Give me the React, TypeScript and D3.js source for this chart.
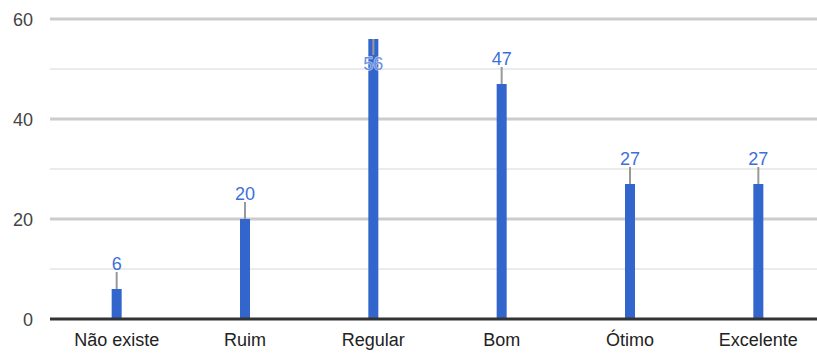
import React from "react";
import * as d3 from "d3";

const categories = ["Não existe", "Ruim", "Regular", "Bom", "Ótimo", "Excelente"];
const values = [6, 20, 56, 47, 27, 27];
const majorTicks = [0, 20, 40, 60];
const minorTicks = [10, 30, 50];

const W = 817;
const H = 353;
const FONT = "Arial, 'Liberation Sans', sans-serif";

export default function App() {
  const x = d3
    .scaleBand<string>()
    .domain(categories)
    .range([52.5, 822.5])
    .paddingInner(0.922)
    .paddingOuter(0.461);
  const y = d3.scaleLinear().domain([0, 60]).range([319, 19]);
  const bw = x.bandwidth();
  const chartTop = y(60);

  return (
    <svg
      width={W}
      height={H}
      style={{ position: "absolute", left: 0, top: 0, overflow: "hidden", background: "#fff" }}
    >
      {minorTicks.map((t) => (
        <line key={"mi" + t} x1={50} x2={W} y1={y(t)} y2={y(t)} stroke="#ebebeb" strokeWidth={2} />
      ))}
      {majorTicks.filter((t) => t !== 0).map((t) => (
        <line key={"ma" + t} x1={50} x2={W} y1={y(t)} y2={y(t)} stroke="#cccccc" strokeWidth={3} />
      ))}
      {majorTicks.map((t) => (
        <text
          key={"yl" + t}
          x={33}
          y={y(t) + 6.5}
          textAnchor="end"
          fontFamily={FONT}
          fontSize={18}
          fill="#444"
        >
          {t}
        </text>
      ))}
      {values.map((v, i) => {
        const c = categories[i];
        const cx = (x(c) as number) + bw / 2;
        const top = y(v);
        const inside = top - 36 < chartTop;
        return (
          <g key={c}>
            <rect x={x(c)} y={top} width={bw} height={y(0) - top} fill="#3366cc" />
            {inside ? (
              <>
                <line x1={cx} x2={cx} y1={top} y2={top + 16} stroke="#999" strokeWidth={2} />
                <text
                  x={cx}
                  y={top + 31}
                  textAnchor="middle"
                  fontFamily={FONT}
                  fontSize={18}
                  fill="#6d8fe0"
                  stroke="#ffffff"
                  strokeWidth={1.5}
                  strokeOpacity={0.6}
                  style={{ paintOrder: "stroke" }}
                >
                  {v}
                </text>
              </>
            ) : (
              <>
                <line x1={cx} x2={cx} y1={top - 17} y2={top} stroke="#999" strokeWidth={2} />
                <text
                  x={cx}
                  y={top - 19}
                  textAnchor="middle"
                  fontFamily={FONT}
                  fontSize={18}
                  fill="#3d6fdc"
                >
                  {v}
                </text>
              </>
            )}
          </g>
        );
      })}
      <line x1={50} x2={W} y1={y(0)} y2={y(0)} stroke="#333" strokeWidth={3} />
      {categories.map((c) => (
        <text
          key={"xl" + c}
          x={(x(c) as number) + bw / 2}
          y={346}
          textAnchor="middle"
          fontFamily={FONT}
          fontSize={18}
          fill="#222"
        >
          {c}
        </text>
      ))}
    </svg>
  );
}
